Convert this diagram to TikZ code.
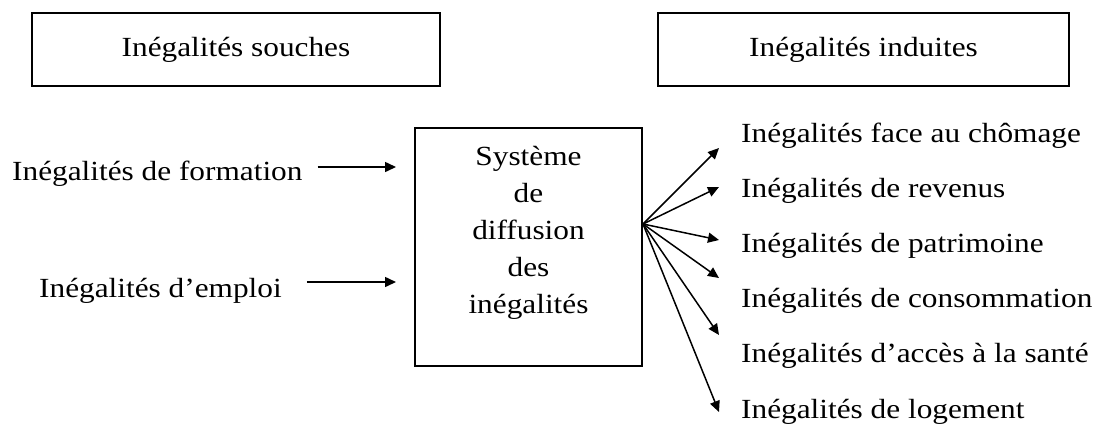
\documentclass[tikz,border=0pt]{standalone}
\usepackage{fontspec}
\setmainfont{Liberation Serif}[FakeStretch=1.13]
\usepackage{tikz}
\usetikzlibrary{arrows.meta,positioning}

\begin{document}
\begin{tikzpicture}[x=1pt, y=-1pt,
    every node/.style={font=\fontsize{27.7}{37}\selectfont, inner sep=0pt},
    cadre/.style={draw, line width=2pt},
    fleche/.style={line width=1.5pt, -{Triangle[length=11pt,width=10pt]}}]
  \useasboundingbox (0,0) rectangle (1099,432);
  % top boxes
  \node[cadre, minimum width=408pt, minimum height=73pt] (souches) at (236,49.5) {Inégalités souches};
  \node[cadre, minimum width=411pt, minimum height=73pt] (induites) at (863.5,49.5) {Inégalités induites};
  % central box
  \node[cadre, minimum width=227pt, minimum height=238pt] (systeme) at (528.5,247) {};
  \node[align=center, anchor=base] (systemetexte) at (528.5,313) {Système\\de\\diffusion\\des\\inégalités};
  \coordinate (diffusion) at ([yshift=23pt]systeme.east);
  % left side
  \node[anchor=base west] (formation) at (12,180) {Inégalités de formation};
  \node[anchor=base west] (emploi) at (39,297) {Inégalités d’emploi};
  \draw[fleche, shorten >=18pt] ([xshift=15pt,yshift=13pt]formation.base east) -- ([yshift=13pt]formation.base east -| systeme.west);
  \draw[fleche, shorten >=18pt] ([xshift=25pt,yshift=15pt]emploi.base east) -- ([yshift=15pt]emploi.base east -| systeme.west);
  % right side
  \foreach \i/\ytip/\txt in {1/148/{face au chômage}, 2/187/{de revenus}, 3/240/{de patrimoine},
      4/278/{de consommation}, 5/335/{d’accès à la santé}, 6/412/{de logement}} {
    \node[anchor=base west] (induite\i) at (741,{142+55.2*(\i-1)}) {Inégalités \txt};
    \coordinate (pointe\i) at (719,\ytip);
    \draw[fleche] (diffusion) -- (pointe\i);
  }
\end{tikzpicture}
\end{document}
